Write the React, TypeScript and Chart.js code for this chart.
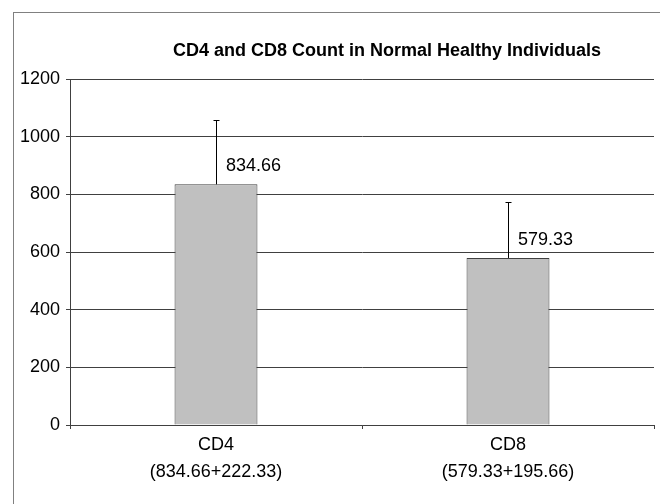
import React, { useEffect, useRef } from "react";
import { Chart, registerables } from "chart.js";

Chart.register(...registerables);

const categories: string[][] = [
  ["CD4", "(834.66+222.33)"],
  ["CD8", "(579.33+195.66)"],
];
const meanValues: number[] = [834.66, 579.33];
const errorValues: number[] = [222.33, 195.66];
const valueLabels: string[] = ["834.66", "579.33"];
const titleText = "CD4 and CD8 Count in Normal Healthy Individuals";
const yMin = 0;
const yMax = 1200;
const yStep = 200;

const FONT = "'Liberation Sans', Arial, sans-serif";

export default function App() {
  const ref = useRef<HTMLCanvasElement | null>(null);

  useEffect(() => {
    if (!ref.current) return;

    const framePlugin = {
      id: "frame",
      beforeDraw(chart: any) {
        const ctx = chart.ctx;
        ctx.save();
        ctx.fillStyle = "#ffffff";
        ctx.fillRect(0, 0, chart.width, chart.height);
        ctx.strokeStyle = "#808080";
        ctx.lineWidth = 1;
        ctx.strokeRect(13.5, 12.5, chart.width + 20, chart.height + 20);
        ctx.restore();
      },
      afterDraw(chart: any) {
        const ctx = chart.ctx;
        ctx.save();
        ctx.fillStyle = "#000";
        ctx.font = `bold 18px ${FONT}`;
        ctx.textAlign = "center";
        ctx.textBaseline = "middle";
        ctx.fillText(titleText, 387, 51);
        ctx.restore();
      },
    };

    const errorPlugin = {
      id: "errbars",
      afterDatasetsDraw(chart: any) {
        const ctx = chart.ctx;
        const meta = chart.getDatasetMeta(0);
        const yScale = chart.scales.y;
        ctx.save();
        meta.data.forEach((bar: any, i: number) => {
          const x = Math.round(bar.x) + 0.5;
          const yTop = yScale.getPixelForValue(meanValues[i] + errorValues[i]);
          const yBar = bar.y;
          ctx.strokeStyle = "#000";
          ctx.lineWidth = 1;
          ctx.beginPath();
          ctx.moveTo(x, yBar);
          ctx.lineTo(x, Math.round(yTop) + 0.5);
          ctx.moveTo(x - 3, Math.round(yTop) + 0.5);
          ctx.lineTo(x + 3, Math.round(yTop) + 0.5);
          ctx.stroke();
          ctx.fillStyle = "#000";
          ctx.font = `18px ${FONT}`;
          ctx.textAlign = "left";
          ctx.textBaseline = "middle";
          ctx.fillText(valueLabels[i], bar.x + 10, yBar - 18);
        });
        ctx.restore();
      },
    };

    const chart = new Chart(ref.current, {
      type: "bar",
      data: {
        labels: categories,
        datasets: [
          {
            data: meanValues,
            backgroundColor: "#c0c0c0",
            borderColor: "#404040",
            borderWidth: 1,
            barPercentage: 0.284,
            categoryPercentage: 1,
          },
        ],
      },
      options: {
        responsive: false,
        animation: false,
        devicePixelRatio: 1,
        layout: { padding: { top: 79, left: 0, right: 6, bottom: 0 } },
        plugins: {
          legend: { display: false },
          tooltip: { enabled: false },
          title: { display: false },
        },
        scales: {
          x: {
            offset: true,
            grid: {
              display: true,
              drawOnChartArea: false,
              drawTicks: true,
              tickLength: 4,
              color: "#404040",
              offset: true,
            },
            border: { display: true, color: "#404040", width: 1 },
            ticks: {
              color: "#000",
              font: { family: FONT, size: 18, lineHeight: 1.5 },
              padding: 3,
              maxRotation: 0,
              autoSkip: false,
            },
            afterFit(scale: any) {
              scale.height = 79;
            },
          },
          y: {
            min: yMin,
            max: yMax,
            grid: {
              color: "#404040",
              tickLength: 4,
              drawTicks: true,
            },
            border: { display: true, color: "#404040", width: 1 },
            ticks: {
              stepSize: yStep,
              color: "#000",
              font: { family: FONT, size: 18 },
              padding: 6,
              callback: (v: any) => String(v),
            },
            afterFit(scale: any) {
              scale.width = 70;
            },
          },
        },
      },
      plugins: [framePlugin, errorPlugin],
    });

    return () => chart.destroy();
  }, []);

  return (
    <div style={{ position: "absolute", left: 0, top: 0, width: 660, height: 504 }}>
      <canvas ref={ref} width={660} height={504} style={{ display: "block" }} />
    </div>
  );
}
